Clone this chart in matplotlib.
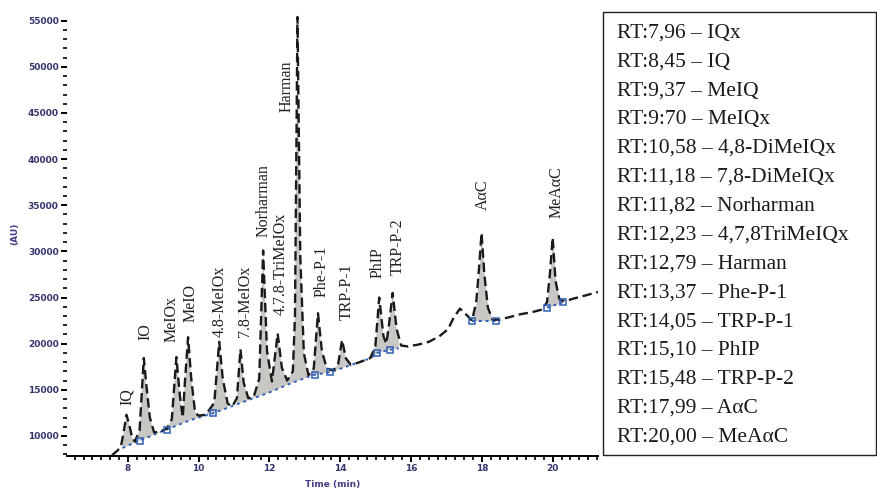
import numpy as np
import matplotlib
matplotlib.use("Agg")
import matplotlib.pyplot as plt
from matplotlib.ticker import MultipleLocator
from matplotlib.patches import Rectangle

# chromatogram trace (time in min, signal in AU)
trace_t = [7.55, 7.70, 7.80, 7.87, 7.96, 8.04, 8.12, 8.20, 8.33, 8.45, 8.53, 8.62, 8.74,
           8.90, 9.10, 9.24, 9.37, 9.47, 9.55, 9.61, 9.70, 9.79, 9.90, 10.00, 10.20,
           10.44, 10.58, 10.68, 10.82, 10.95, 11.08, 11.18, 11.27, 11.40, 11.55, 11.71,
           11.82, 11.93, 12.07, 12.23, 12.35, 12.50, 12.66, 12.72, 12.79, 12.87, 12.97,
           13.10, 13.25, 13.37, 13.48, 13.62, 13.80, 13.94, 14.05, 14.16, 14.30, 14.55,
           14.85, 14.99, 15.10, 15.22, 15.30, 15.37, 15.48, 15.59, 15.72, 15.90, 16.20,
           16.50, 16.80, 17.05, 17.20, 17.38, 17.52, 17.72, 17.84, 17.92, 17.99, 18.07,
           18.17, 18.30, 18.50, 18.80, 19.10, 19.40, 19.70, 19.84, 19.92, 20.00, 20.08,
           20.19, 20.35, 20.60, 20.90, 21.28]
trace_y = [7900, 8400, 8800, 10200, 12300, 11200, 9800, 9400, 10600, 18450, 15200, 12000, 10400,
           10450, 10800, 11800, 18550, 14300, 12000, 15800, 20700, 16200, 12500, 12200, 12300,
           13600, 20200, 16200, 13500, 13200, 14100, 19400, 15800, 14100, 14200, 16200,
           30100, 19200, 15900, 21100, 17400, 16000, 17000, 23000, 55400, 29500, 19000,
           16600, 17300, 23300, 19200, 17300, 17100, 17800, 20400, 18400, 17700, 18000,
           18450, 19700, 25000, 20800, 20000, 21900, 25500, 21600, 19800, 19700, 19900,
           20200, 20800, 21600, 22800, 23800, 23300, 22500, 24500, 28200, 32000, 27500,
           23900, 22600, 22600, 22900, 23200, 23400, 23700, 24500, 27500, 31500, 26800,
           24800, 24600, 24900, 25200, 25600]

# integration baselines (blue)
base_segments_t = [[7.85, 8.20, 8.34, 8.90, 9.75, 10.40, 11.16, 11.95, 12.60, 13.23, 13.75,
                    14.27, 14.84, 15.05, 15.35, 15.65],
                   [17.72, 18.40],
                   [19.84, 20.29]]
base_segments_y = [[8700, 9300, 9500, 10400, 11700, 12450, 13550, 14650, 15700, 16600, 16950,
                    17650, 18400, 19000, 19300, 19500],
                   [22500, 22500],
                   [23900, 24500]]

marker_t = [8.34, 9.10, 10.40, 13.28, 13.70, 15.05, 15.40, 17.72, 18.40, 19.84, 20.29]
marker_y = [9500, 10650, 12450, 16650, 16950, 19000, 19300, 22500, 22500, 23900, 24500]

# peak annotations
peak_labels = ["IQ", "IO", "MeIOx", "MeIO", "4.8-MeIOx", "7.8-MeIOx", "Norharman",
               "4.7.8-TriMeIOx", "Harman", "Phe-P-1", "TRP-P-1", "PhIP", "TRP-P-2",
               "A\u03b1C", "MeA\u03b1C"]
label_t = [7.97, 8.51, 9.24, 9.78, 10.60, 11.31, 11.84, 12.32, 12.49, 13.48, 14.19,
           15.06, 15.63, 18.03, 20.12]
label_y = [13360, 20400, 20190, 22350, 20730, 20730, 31560, 23110, 45100, 25060, 22570,
           27120, 27440, 34490, 33620]

legend_lines = ["RT:7,96 \u2013 IQx", "RT:8,45 \u2013 IQ", "RT:9,37 \u2013 MeIQ",
                "RT:9:70 \u2013 MeIQx", "RT:10,58 \u2013 4,8-DiMeIQx",
                "RT:11,18 \u2013 7,8-DiMeIQx", "RT:11,82 \u2013 Norharman",
                "RT:12,23 \u2013 4,7,8TriMeIQx", "RT:12,79 \u2013 Harman",
                "RT:13,37 \u2013 Phe-P-1", "RT:14,05 \u2013 TRP-P-1", "RT:15,10 \u2013 PhIP",
                "RT:15,48 \u2013 TRP-P-2", "RT:17,99 \u2013 A\u03b1C",
                "RT:20,00 \u2013 MeA\u03b1C"]

W, H = 877, 490
fig = plt.figure(figsize=(W / 100, H / 100), dpi=100)
ax = fig.add_axes([67 / W, 1 - 456 / H, (598 - 67) / W, (456 - 12) / H])

tt = np.array(trace_t)
yy = np.array(trace_y)
for bt, by in zip(base_segments_t, base_segments_y):
    m = (tt >= bt[0]) & (tt <= bt[-1])
    ts = np.concatenate([[bt[0]], tt[m], [bt[-1]]])
    top = np.interp(ts, tt, yy)
    bot = np.interp(ts, bt, by)
    ax.fill_between(ts, bot, top, where=top >= bot, color="#c9c7c3", lw=0, zorder=1)
    ax.plot(bt, by, color="#2f5fb3", ls=(0, (1.5, 2)), lw=1.4, zorder=2)

ax.plot(trace_t, trace_y, color="#1a1a1a", lw=1.7, ls=(0, (4, 2)), zorder=3)
ax.plot(marker_t, marker_y, ls="none", marker="s", ms=4, mfc="none", mec="#2f5fb3",
        mew=1.1, zorder=4)

for lab, x, y in zip(peak_labels, label_t, label_y):
    ax.text(x, y, lab, rotation=90, ha="center", va="bottom", fontsize=11.5,
            family="Liberation Serif", color="#222222")

ax.set_xlim(6.28, 21.28)
ax.set_ylim(7830, 55940)
ax.set_yticks([10000, 15000, 20000, 25000, 30000, 35000, 40000, 45000, 50000, 55000])
ax.set_xticks([8, 10, 12, 14, 16, 18, 20])
ax.xaxis.set_minor_locator(MultipleLocator(0.25))
ax.yaxis.set_minor_locator(MultipleLocator(1000))
for s in ["top", "right", "left"]:
    ax.spines[s].set_visible(False)
ax.spines["bottom"].set_linewidth(1.4)
ax.tick_params(axis="both", which="major", direction="out", length=4, width=1.4,
               labelsize=6.5, labelcolor="#35356e", pad=2)
ax.tick_params(axis="both", which="minor", direction="out", length=3, width=1.2)
for lab in ax.get_yticklabels() + ax.get_xticklabels():
    lab.set_fontweight("bold")
ax.set_xlabel("Time (min)", fontsize=6.5, color="#4a3a8a", fontweight="bold", labelpad=5)
ax.set_ylabel("(AU)", fontsize=6.5, color="#4a3a8a", fontweight="bold", labelpad=6)

# retention-time key box
fig.add_artist(Rectangle((603 / W, 1 - 455 / H), (876 - 603) / W, (455 - 12) / H,
                         transform=fig.transFigure, fill=False, ec="#222222", lw=1.0))
for i, line in enumerate(legend_lines):
    yc = 33 + i * (437 - 33) / 14
    fig.text(617 / W, 1 - yc / H, line, ha="left", va="center", fontsize=15.5,
             family="Liberation Serif", color="#1a1a1a")

fig.savefig("out.png", dpi=100)
